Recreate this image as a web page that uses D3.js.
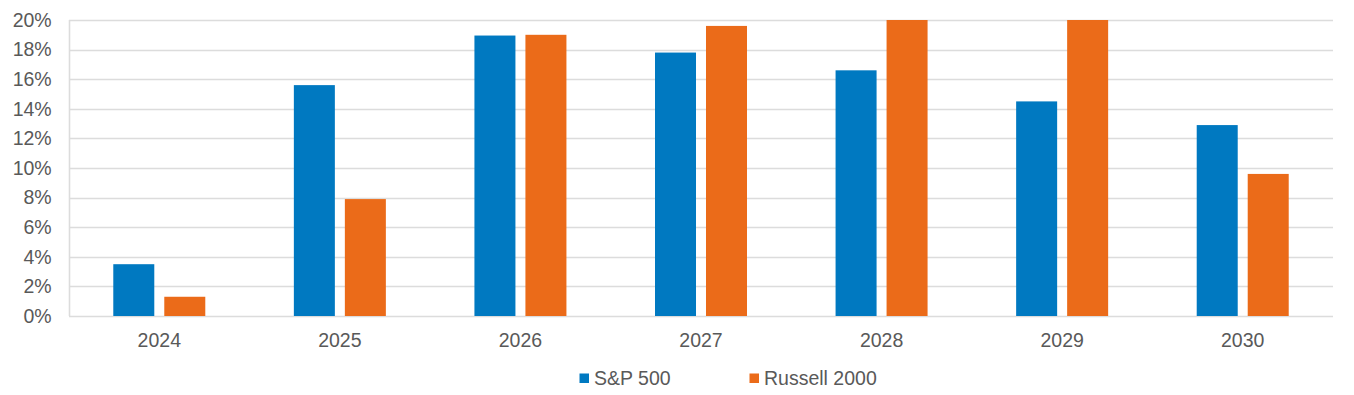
<!DOCTYPE html>
<html>
<head>
<meta charset="utf-8">
<script src="https://cdn.jsdelivr.net/npm/d3@7"></script>
<style>
  html, body { margin: 0; padding: 0; background: #fff; }
  svg { display: block; font-family: "Liberation Sans", Arial, sans-serif; }
</style>
</head>
<body>
<svg id="chart" width="1354" height="395"></svg>
<script>
const years = ["2024", "2025", "2026", "2027", "2028", "2029", "2030"];
const seriesNames = ["S&P 500", "Russell 2000"];
const sp500 = [3.5, 15.6, 18.95, 17.8, 16.6, 14.5, 12.9];
const russell2000 = [1.3, 7.9, 19.0, 19.6, 20.0, 20.0, 9.6];
const yTicks = [0, 2, 4, 6, 8, 10, 12, 14, 16, 18, 20];
const colors = ["#0079C1", "#EB6B19"];

const svg = d3.select("#chart");
const mLeft = 69, mRight = 1333, mTop = 20, mBottom = 316;
const fontSize = "19.5px";

const x0 = d3.scaleBand().domain(years).range([mLeft, mRight]).padding(0);
const groupW = 92;
const x1 = d3.scaleBand().domain(seriesNames).range([0, groupW]).paddingInner(0.196).paddingOuter(0);
const y = d3.scaleLinear().domain([0, 20]).range([mBottom, mTop]);

// gridlines
svg.append("g").selectAll("line").data(yTicks).join("line")
  .attr("x1", mLeft).attr("x2", mRight)
  .attr("y1", d => Math.round(y(d)) + 0.5).attr("y2", d => Math.round(y(d)) + 0.5)
  .attr("stroke", "#dcdcdc").attr("stroke-width", 1.6);

// left axis line
svg.append("line").attr("x1", mLeft + 0.5).attr("x2", mLeft + 0.5)
  .attr("y1", mTop).attr("y2", mBottom).attr("stroke", "#dcdcdc").attr("stroke-width", 1.6);

// y axis labels
const yAxis = d3.axisLeft(y).tickValues(yTicks).tickFormat(d => d + "%").tickSize(0).tickPadding(17.3);
const gy = svg.append("g").attr("transform", `translate(${mLeft},0)`).call(yAxis);
gy.select(".domain").remove();
gy.selectAll("text").attr("fill", "#595959").style("font-size", fontSize)
  .style("font-family", '"Liberation Sans", Arial, sans-serif');

// x axis labels
const xAxis = d3.axisBottom(x0).tickSize(0).tickPadding(17.5);
const gx = svg.append("g").attr("transform", `translate(0,${mBottom})`).call(xAxis);
gx.select(".domain").remove();
gx.selectAll("text").attr("fill", "#595959").style("font-size", fontSize)
  .style("font-family", '"Liberation Sans", Arial, sans-serif');

// bars
const data = years.map((yr, i) => ({ year: yr, values: [sp500[i], russell2000[i]] }));
const groups = svg.append("g").selectAll("g").data(data).join("g")
  .attr("transform", d => `translate(${x0(d.year) + (x0.bandwidth() - groupW) / 2},0)`);
groups.selectAll("rect").data(d => d.values.map((v, j) => ({ name: seriesNames[j], v, j })))
  .join("rect")
  .attr("x", d => x1(d.name))
  .attr("width", x1.bandwidth())
  .attr("y", d => y(d.v))
  .attr("height", d => y(0) - y(d.v))
  .attr("fill", d => colors[d.j]);

// legend
const legendX = [579.5, 749.5];
const legend = svg.append("g").selectAll("g").data(seriesNames).join("g")
  .attr("transform", (d, i) => `translate(${legendX[i]},373.5)`);
legend.append("rect").attr("width", 9.5).attr("height", 9.5).attr("fill", (d, i) => colors[i]);
legend.append("text").attr("x", 14.5).attr("y", 11.5)
  .attr("fill", "#595959").style("font-size", fontSize).text(d => d);
</script>
</body>
</html>
